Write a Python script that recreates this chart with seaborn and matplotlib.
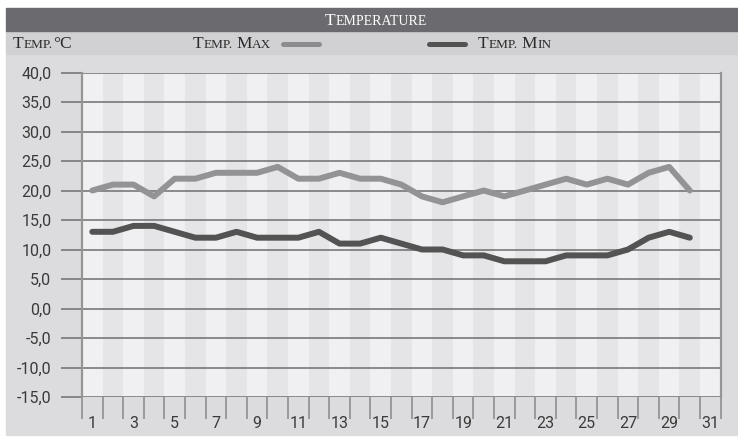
import numpy as np
import pandas as pd
import seaborn as sns
from matplotlib import pyplot as plt
from matplotlib.lines import Line2D
from matplotlib.patches import Rectangle

days = list(range(1, 31))
temp_max = [20, 21, 21, 19, 22, 22, 23, 23, 23, 24, 22, 22, 23, 22, 22,
            21, 19, 18, 19, 20, 19, 20, 21, 22, 21, 22, 21, 23, 24, 20]
temp_min = [13, 13, 14, 14, 13, 12, 12, 13, 12, 12, 12, 13, 11, 11, 12,
            11, 10, 10, 9, 9, 8, 8, 8, 9, 9, 9, 10, 12, 13, 12]
y_ticks = [-15, -10, -5, 0, 5, 10, 15, 20, 25, 30, 35, 40]
x_labels = list(range(1, 32, 2))
n_days = 31

W, H = 738, 438
MAX_COLOR = '#939395'
MIN_COLOR = '#535353'


def fx(x):
    return x / W


def fy(y):
    return 1 - y / H


def small_caps(fig, renderer, x, y, text, big, small, color):
    # lowercase (and '.') -> small caps, the rest full size
    runs = []
    for ch in text:
        kind = 'space' if ch == ' ' else ('small' if (ch.islower() or ch == '.') else 'big')
        if runs and runs[-1][0] == kind and kind != 'space':
            runs[-1][1] += ch
        else:
            runs.append([kind, ch])
    for kind, s in runs:
        if kind == 'space':
            x += big * 0.3
            continue
        size = big if kind == 'big' else small
        t = fig.text(fx(x), fy(y), s.upper(), fontsize=size, color=color,
                     family='Liberation Serif', ha='left', va='baseline')
        bb = t.get_window_extent(renderer)
        x = bb.x1


sns.set_style('white')
plt.rcParams['font.family'] = ['Roboto', 'DejaVu Sans']

fig = plt.figure(figsize=(W / 100, H / 100), dpi=100)
fig.patch.set_facecolor('white')

# frame: title bar, legend row, plot background
fig.add_artist(Rectangle((fx(6), fy(435)), fx(W - 6), (435 - 54) / H,
                         transform=fig.transFigure, color='#dcdcde', zorder=0))
fig.add_artist(Rectangle((fx(6), fy(54)), fx(W - 6), (54 - 31) / H,
                         transform=fig.transFigure, color='#d1d1d3', zorder=0))
fig.add_artist(Rectangle((fx(6), fy(31)), fx(W - 6), (31 - 8) / H,
                         transform=fig.transFigure, color='#6b6b6f', zorder=0))

ax = fig.add_axes([fx(82), fy(397), fx(720.7 - 82), (397 - 72.5) / H])
ax.set_facecolor('#f0f0f2')
for d in range(2, n_days + 1, 2):
    ax.axvspan(d - 0.5, d + 0.5, color='#e5e5e7', lw=0, zorder=1)

df = pd.DataFrame({'day': days, 'max': temp_max, 'min': temp_min})
sns.lineplot(data=df, x='day', y='max', ax=ax, color=MAX_COLOR, lw=4.3,
             solid_capstyle='round', solid_joinstyle='round', zorder=3)
sns.lineplot(data=df, x='day', y='min', ax=ax, color=MIN_COLOR, lw=4.3,
             solid_capstyle='round', solid_joinstyle='round', zorder=3)

ax.set_xlim(0.5, n_days + 0.5)
ax.set_ylim(-15, 40)
ax.set_xlabel('')
ax.set_ylabel('')

ax.set_yticks(y_ticks)
ax.set_yticklabels([f'{v:.1f}'.replace('.', ',') for v in y_ticks])
ax.set_xticks(np.arange(0.5, n_days + 1, 1))
ax.set_xticklabels([])
ax.set_xticks(x_labels, minor=True)
ax.set_xticklabels([str(v) for v in x_labels], minor=True)

ax.grid(axis='y', color='#6e6e6e', lw=1.1)
ax.grid(axis='x', visible=False)
ax.set_axisbelow('line')
ax.tick_params(axis='y', which='major', length=15, width=1.1, color='#6e6e6e',
               pad=7, labelsize=11.5, labelcolor='#3a3a3a', left=True)
ax.tick_params(axis='x', which='major', length=16, width=1.1, color='#888888',
               bottom=True)
ax.tick_params(axis='x', which='minor', length=0, pad=14, labelsize=11.5,
               labelcolor='#3a3a3a')
for side in ['left', 'right']:
    ax.spines[side].set_color('#959595')
    ax.spines[side].set_linewidth(1.6)
for side in ['top', 'bottom']:
    ax.spines[side].set_visible(False)

# legend row samples
fig.add_artist(Line2D([fx(283), fx(319)], [fy(44), fy(44)], color='#8c8c8e',
                      lw=3.6, solid_capstyle='round'))
fig.add_artist(Line2D([fx(429), fx(465)], [fy(44), fy(44)], color=MIN_COLOR,
                      lw=3.6, solid_capstyle='round'))

renderer = fig.canvas.get_renderer()
small_caps(fig, renderer, 325, 25, 'Temperature', 12.5, 10, 'white')
small_caps(fig, renderer, 13, 48, 'Temp.°C', 12.5, 9.5, '#2a2a2a')
small_caps(fig, renderer, 193, 48, 'Temp. Max', 12.5, 9.5, '#2a2a2a')
small_caps(fig, renderer, 478, 48, 'Temp. Min', 12.5, 9.5, '#2a2a2a')

fig.savefig('out.png', dpi=100)
